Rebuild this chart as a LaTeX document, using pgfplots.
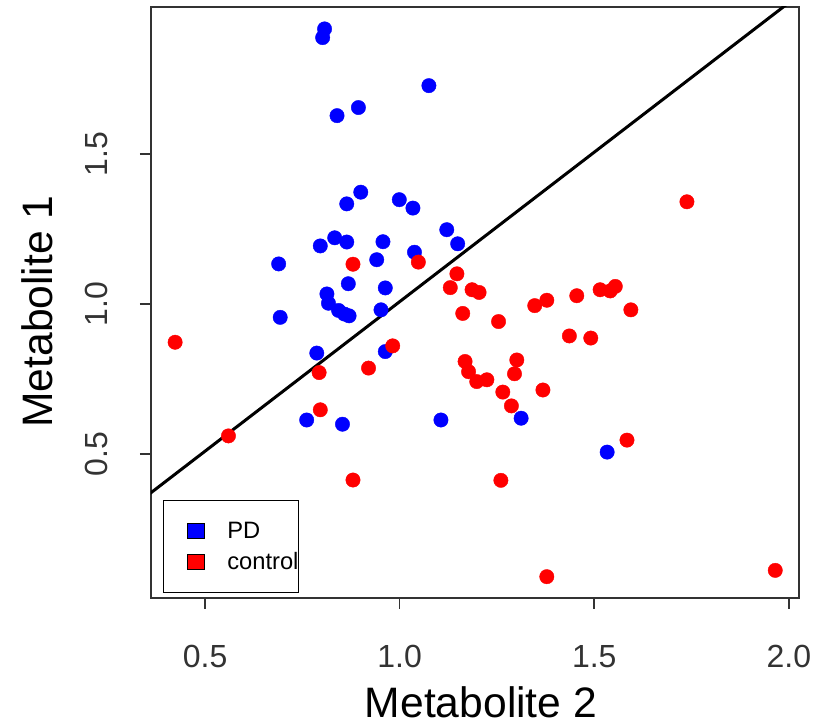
\documentclass[border=0pt]{standalone}
\usepackage{pgfplots}
\pgfplotsset{compat=1.18}
\usepackage{fontspec}
\setmainfont{Liberation Sans}
\begin{document}
\begin{tikzpicture}
\begin{axis}[
  scale only axis, width=648pt, height=591pt,
  at={(0pt,0pt)}, anchor=south west,
  xmin=0.361, xmax=2.026, ymin=0.02, ymax=1.989,
  axis line style={black!80, line width=1.6pt},
  xtick={0.5,1.0,1.5,2.0}, ytick={0.5,1.0,1.5},
  xticklabels={0.5,1.0,1.5,2.0}, yticklabels={0.5,1.0,1.5},
  xtick pos=lower, ytick pos=left,
  tick align=outside, major tick length=11pt,
  tick style={black!80, line width=1.6pt},
  tick label style={font=\fontsize{32}{36}\selectfont, text=black!80},
  xticklabel style={anchor=base, yshift=-59pt},
  yticklabel style={rotate=90, anchor=base, yshift=32pt},
  xlabel={Metabolite 2}, ylabel={Metabolite 1},
  label style={font=\fontsize{42.6}{48}\selectfont},
  xlabel style={at={(axis description cs:0.5,0)}, anchor=base, yshift=-120pt, xshift=6pt},
  ylabel style={at={(axis description cs:0,0.5)}, anchor=base, yshift=98pt, xshift=-9pt},
  legend style={at={(axis description cs:0.0185,0.1658)}, anchor=north west,
    draw=black, line width=0.8pt, fill=white, inner xsep=0pt, inner ysep=15.5pt,
    font=\fontsize{23.7}{28}\selectfont, row sep=1pt,
    nodes={inner sep=0pt}},
  legend cell align=left,
  clip=true,
]
\addplot[only marks, mark=*, mark size=7.2pt, color=blue, mark options={draw=none, fill=blue},
  legend image code/.code={\path[draw=none, fill=none] (0pt,-15pt) rectangle (64pt,15pt);
    \draw[draw=black, fill=blue, line width=0.8pt] (24pt,-7.5pt) rectangle (41pt,7.5pt);}]
coordinates {
(0.807,1.916) (0.802,1.887) (1.075,1.727) (0.894,1.654) (0.839,1.627)
(0.900,1.372) (0.864,1.333) (0.999,1.347) (1.034,1.319) (1.121,1.247)
(1.149,1.200) (0.833,1.220) (0.864,1.206) (0.796,1.193) (0.957,1.207)
(1.038,1.172) (0.941,1.147) (0.689,1.133) (0.868,1.067) (0.963,1.053)
(0.813,1.033) (0.817,1.002) (0.843,0.978) (0.858,0.966) (0.870,0.960)
(0.952,0.980) (0.693,0.955) (0.787,0.836) (0.963,0.841) (0.761,0.613)
(0.853,0.599) (1.106,0.613) (1.312,0.619) (1.533,0.506)
};
\addlegendentry{PD}
\addplot[only marks, mark=*, mark size=7.2pt, color=red, mark options={draw=none, fill=red},
  legend image code/.code={\path[draw=none, fill=none] (0pt,-15pt) rectangle (64pt,15pt);
    \draw[draw=black, fill=red, line width=0.8pt] (24pt,-7.5pt) rectangle (41pt,7.5pt);}]
coordinates {
(0.880,1.132) (1.048,1.139) (1.147,1.100) (1.130,1.054) (1.186,1.047)
(1.204,1.038) (1.162,0.968) (1.738,1.340) (1.254,0.941) (1.347,0.994)
(1.378,1.012) (1.455,1.027) (1.515,1.047) (1.541,1.043) (1.554,1.058)
(1.594,0.980) (1.436,0.893) (1.491,0.886) (1.168,0.808) (1.177,0.774)
(1.198,0.741) (1.224,0.747) (1.301,0.813) (1.295,0.767) (1.265,0.706)
(1.368,0.713) (1.287,0.660) (1.584,0.546) (1.260,0.412) (1.378,0.091)
(1.965,0.112) (0.423,0.872) (0.982,0.860) (0.920,0.786) (0.793,0.771)
(0.796,0.647) (0.560,0.560) (0.880,0.413)
};
\addlegendentry{control\hspace{13pt}}
\addplot[black, line width=3pt, forget plot] coordinates {(0.30,0.310) (2.10,2.103)};
\end{axis}
\pgfresetboundingbox
\path[use as bounding box] (-151pt,-129pt) rectangle (672pt,598pt);
\end{tikzpicture}
\end{document}
